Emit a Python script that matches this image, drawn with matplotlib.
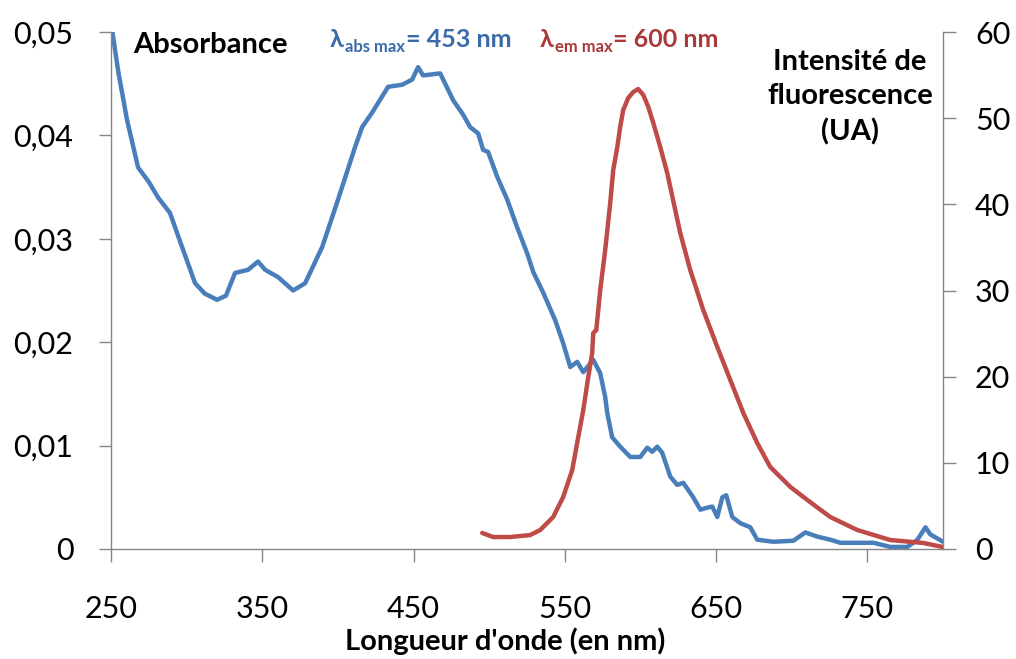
import matplotlib
matplotlib.use("Agg")
import matplotlib.pyplot as plt

# ---- data ----
abs_wl = [250.7, 255.0, 260.6, 267.9, 275.0, 281.1, 289.0, 297.0, 305.6, 312.0, 320.1, 326.0,
          332.0, 340.6, 347.2, 351.9, 360.4, 370.4, 378.3, 389.6, 400.1, 411.4, 416.0,
          422.6, 433.2, 442.5, 449.1, 453.0, 456.3, 462.0, 467.6, 472.9, 476.2, 482.8,
          487.4, 492.7, 496.0, 499.3, 505.3, 511.9, 518.5, 525.1, 529.1, 535.7, 543.7,
          548.9, 553.6, 558.2, 562.2, 568.8, 573.4, 576.7, 578.0, 581.3, 586.6, 593.3,
          599.9, 604.5, 607.8, 611.1, 614.4, 619.7, 624.3, 628.3, 634.9, 639.6, 644.2,
          647.5, 650.8, 654.1, 656.7, 660.7, 666.0, 672.6, 677.2, 687.8, 701.1, 709.0,
          716.9, 725.5, 732.1, 743.4, 754.0, 765.2, 776.5, 783.1, 788.4, 791.7, 800.0]
abs_val = [0.0502, 0.0460, 0.0415, 0.0369, 0.0355, 0.0340, 0.0325, 0.0292, 0.0257, 0.0247, 0.0241, 0.0245,
           0.0267, 0.0270, 0.0278, 0.0270, 0.0263, 0.0250, 0.0257, 0.0292, 0.0338, 0.0389, 0.0408,
           0.0422, 0.0447, 0.0449, 0.0454, 0.0466, 0.0458, 0.0459, 0.0460, 0.0444, 0.0434, 0.0420,
           0.0408, 0.0402, 0.0386, 0.0384, 0.0360, 0.0338, 0.0311, 0.0286, 0.0268, 0.0248, 0.0221,
           0.0199, 0.0176, 0.0181, 0.0171, 0.0183, 0.0170, 0.0147, 0.0132, 0.0108, 0.0099, 0.0089,
           0.0089, 0.0098, 0.0094, 0.0099, 0.0093, 0.0070, 0.0062, 0.0064, 0.0050, 0.0038, 0.0040,
           0.0041, 0.0031, 0.0050, 0.0052, 0.0031, 0.0025, 0.0021, 0.0009, 0.0007, 0.0008, 0.0016,
           0.0012, 0.0009, 0.0006, 0.0006, 0.0006, 0.0002, 0.0002, 0.0009, 0.0021, 0.0014, 0.0007]

em_wl = [495.4, 502.6, 513.9, 527.1, 533.7, 542.3, 548.9, 554.9, 558.9, 562.2, 565.5, 568.1,
         568.8, 570.8, 573.4, 576.7, 580.0, 582.0, 584.7, 586.6, 588.6, 591.9, 595.2, 598.5,
         601.9, 605.2, 608.5, 613.1, 617.7, 623.0, 626.3, 632.9, 641.5, 650.8, 659.4, 668.0,
         677.2, 685.8, 699.1, 710.3, 725.5, 743.4, 765.2, 787.0, 800.0]
em_val = [1.86, 1.39, 1.39, 1.62, 2.20, 3.71, 6.03, 9.17, 13.00, 16.13, 19.96, 22.75,
          25.07, 25.41, 30.06, 34.70, 40.15, 43.98, 46.65, 48.97, 50.95, 52.34, 53.03, 53.38,
          52.69, 51.29, 49.44, 46.65, 43.63, 39.34, 36.67, 32.38, 27.74, 23.44, 19.61, 15.78,
          12.30, 9.52, 7.20, 5.69, 3.71, 2.20, 1.04, 0.70, 0.23]

x_ticks = [250, 350, 450, 550, 650, 750]
y_left_ticks = [0, 0.01, 0.02, 0.03, 0.04, 0.05]
y_left_labels = ["0", "0,01", "0,02", "0,03", "0,04", "0,05"]
y_right_ticks = [0, 10, 20, 30, 40, 50, 60]

BLUE = "#4A7EBB"
RED = "#BE4B48"
BLUE_TXT = "#3A6BA8"
RED_TXT = "#A83B3A"
GRAY = "#868686"

plt.rcParams['font.family'] = ['Lato', 'DejaVu Sans']

W, H = 1016, 659
fig = plt.figure(figsize=(W / 100, H / 100), dpi=100)
L, R, B, T = 111, 943, 549, 32
ax = fig.add_axes([L / W, 1 - B / H, (R - L) / W, (B - T) / H])
ax2 = ax.twinx()

ax.plot(abs_wl, abs_val, color=BLUE, lw=3.2, solid_joinstyle='round', solid_capstyle='round')
ax2.plot(em_wl, em_val, color=RED, lw=3.2, solid_joinstyle='round', solid_capstyle='round')

ax.set_xlim(250, 800)
ax.set_ylim(0, 0.05)
ax2.set_ylim(0, 60)

ax.set_xticks(x_ticks)
ax.set_xticklabels([str(v) for v in x_ticks])
ax.set_yticks(y_left_ticks)
ax.set_yticklabels(y_left_labels)
ax2.set_yticks(y_right_ticks)
ax2.set_yticklabels([str(v) for v in y_right_ticks])

for a in (ax, ax2):
    for s in a.spines.values():
        s.set_color(GRAY)
        s.set_linewidth(1.0)
    a.spines['top'].set_visible(False)
ax.spines['right'].set_visible(False)
ax2.spines['left'].set_visible(False)
ax2.spines['bottom'].set_visible(False)

ax.tick_params(axis='x', direction='out', length=9, width=1, color=GRAY, pad=24, labelsize=22)
ax.tick_params(axis='y', direction='out', length=9, width=1, color=GRAY, pad=18, labelsize=22)
ax2.tick_params(axis='y', direction='out', length=9, width=1, color=GRAY, pad=14, labelsize=22)

# Labels
fig.text(505 / W, 1 - 641 / H, "Longueur d'onde (en nm)", ha='center', va='center',
         fontsize=21, fontweight='bold')
fig.text(133 / W, 1 - 45 / H, "Absorbance", ha='left', va='center', fontsize=21, fontweight='bold')
fig.text(850 / W, 1 - 97 / H, "Intensité de\nfluorescence\n(UA)", ha='center', va='center',
         fontsize=21, fontweight='bold', linespacing=1.4)

# lambda annotations built piece by piece
fig.canvas.draw()
renderer = fig.canvas.get_renderer()


def chain(x_px, y_px, pieces, color):
    x = x_px
    for txt, size, dy in pieces:
        t = fig.text(x / W, 1 - (y_px + dy) / H, txt, ha='left', va='baseline', fontsize=size,
                     fontweight='bold', color=color, family=['Lato', 'DejaVu Sans'])
        bb = t.get_window_extent(renderer)
        x += bb.width + 1


chain(330, 47, [("λ", 18, 0), ("abs max", 12, 5), ("= 453 nm", 18, 0)], BLUE_TXT)
chain(540, 47, [("λ", 18, 0), ("em max", 12, 5), ("= 600 nm", 18, 0)], RED_TXT)

fig.savefig("out.png", dpi=100)
